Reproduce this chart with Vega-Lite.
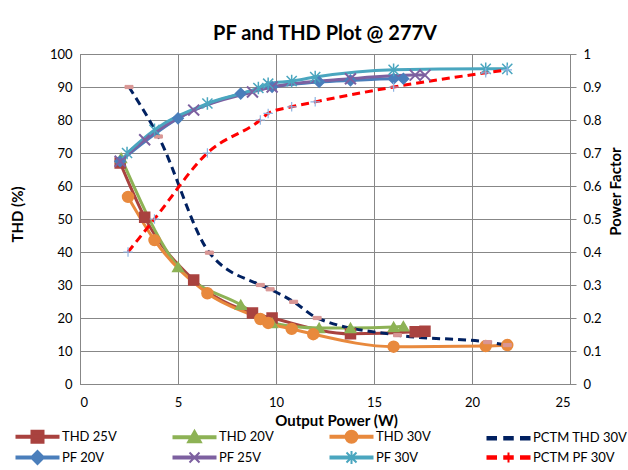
{
  "$schema": "https://vega.github.io/schema/vega-lite/v6.json",
  "width": 490,
  "height": 330,
  "autosize": {"type": "none"},
  "padding": {"left": 80, "top": 54, "right": 58, "bottom": 86},
  "background": "white",
  "title": {"text": "PF and THD Plot @ 277V", "font": "Lato", "fontSize": 20, "fontWeight": "bold", "color": "#000000", "anchor": "middle", "offset": 4},
  "config": {
    "font": "Lato",
    "view": {"stroke": "#878787", "strokeWidth": 1},
    "axis": {"labelFont": "Lato", "labelFontSize": 13, "labelColor": "#000000", "titleFont": "Lato", "titleFontSize": 15, "titleFontWeight": "bold", "titleColor": "#000000", "gridColor": "#878787", "gridWidth": 1, "domainColor": "#878787", "tickColor": "#878787", "tickSize": 6}
  },
  "data": {"values": [
    {"s": "THD 25V", "t": "THD", "x": 2.05, "y": 67},
    {"s": "THD 25V", "t": "THD", "x": 3.3, "y": 50.5},
    {"s": "THD 25V", "t": "THD", "x": 5.8, "y": 31.5},
    {"s": "THD 25V", "t": "THD", "x": 8.8, "y": 21.5},
    {"s": "THD 25V", "t": "THD", "x": 9.8, "y": 20},
    {"s": "THD 25V", "t": "THD", "x": 13.8, "y": 15.2},
    {"s": "THD 25V", "t": "THD", "x": 17.1, "y": 15.8},
    {"s": "THD 25V", "t": "THD", "x": 17.6, "y": 16},
    {"s": "THD 20V", "t": "THD", "x": 2.1, "y": 68.5},
    {"s": "THD 20V", "t": "THD", "x": 5.0, "y": 35.5},
    {"s": "THD 20V", "t": "THD", "x": 8.2, "y": 24},
    {"s": "THD 20V", "t": "THD", "x": 9.8, "y": 18.5},
    {"s": "THD 20V", "t": "THD", "x": 12.2, "y": 17},
    {"s": "THD 20V", "t": "THD", "x": 13.8, "y": 17},
    {"s": "THD 20V", "t": "THD", "x": 16.0, "y": 17.3},
    {"s": "THD 20V", "t": "THD", "x": 16.5, "y": 17.5},
    {"s": "THD 30V", "t": "THD", "x": 2.45, "y": 56.7},
    {"s": "THD 30V", "t": "THD", "x": 3.8, "y": 43.6},
    {"s": "THD 30V", "t": "THD", "x": 6.5, "y": 27.5},
    {"s": "THD 30V", "t": "THD", "x": 9.2, "y": 19.7},
    {"s": "THD 30V", "t": "THD", "x": 9.6, "y": 18.5},
    {"s": "THD 30V", "t": "THD", "x": 10.8, "y": 16.7},
    {"s": "THD 30V", "t": "THD", "x": 11.9, "y": 15.1},
    {"s": "THD 30V", "t": "THD", "x": 16.0, "y": 11.3},
    {"s": "THD 30V", "t": "THD", "x": 20.7, "y": 11.5},
    {"s": "THD 30V", "t": "THD", "x": 21.8, "y": 11.8},
    {"s": "PCTM THD 30V", "t": "THD", "x": 2.5, "y": 90},
    {"s": "PCTM THD 30V", "t": "THD", "x": 4.0, "y": 75},
    {"s": "PCTM THD 30V", "t": "THD", "x": 6.6, "y": 39.8},
    {"s": "PCTM THD 30V", "t": "THD", "x": 9.2, "y": 30},
    {"s": "PCTM THD 30V", "t": "THD", "x": 9.7, "y": 28.7},
    {"s": "PCTM THD 30V", "t": "THD", "x": 10.9, "y": 24.9},
    {"s": "PCTM THD 30V", "t": "THD", "x": 12.1, "y": 20},
    {"s": "PCTM THD 30V", "t": "THD", "x": 16.2, "y": 14.8},
    {"s": "PCTM THD 30V", "t": "THD", "x": 20.8, "y": 12.7},
    {"s": "PCTM THD 30V", "t": "THD", "x": 21.8, "y": 11.8},
    {"s": "PF 20V", "t": "PF", "x": 2.05, "y": 0.675},
    {"s": "PF 20V", "t": "PF", "x": 5.0, "y": 0.805},
    {"s": "PF 20V", "t": "PF", "x": 8.2, "y": 0.88},
    {"s": "PF 20V", "t": "PF", "x": 9.8, "y": 0.9},
    {"s": "PF 20V", "t": "PF", "x": 12.2, "y": 0.915},
    {"s": "PF 20V", "t": "PF", "x": 13.8, "y": 0.92},
    {"s": "PF 20V", "t": "PF", "x": 16.0, "y": 0.925},
    {"s": "PF 20V", "t": "PF", "x": 16.5, "y": 0.925},
    {"s": "PF 25V", "t": "PF", "x": 2.05, "y": 0.675},
    {"s": "PF 25V", "t": "PF", "x": 3.3, "y": 0.74},
    {"s": "PF 25V", "t": "PF", "x": 5.8, "y": 0.83},
    {"s": "PF 25V", "t": "PF", "x": 8.8, "y": 0.885},
    {"s": "PF 25V", "t": "PF", "x": 9.8, "y": 0.9},
    {"s": "PF 25V", "t": "PF", "x": 13.8, "y": 0.925},
    {"s": "PF 25V", "t": "PF", "x": 17.1, "y": 0.936},
    {"s": "PF 25V", "t": "PF", "x": 17.6, "y": 0.936},
    {"s": "PF 30V", "t": "PF", "x": 2.4, "y": 0.70},
    {"s": "PF 30V", "t": "PF", "x": 3.8, "y": 0.77},
    {"s": "PF 30V", "t": "PF", "x": 6.5, "y": 0.85},
    {"s": "PF 30V", "t": "PF", "x": 9.1, "y": 0.897},
    {"s": "PF 30V", "t": "PF", "x": 9.6, "y": 0.91},
    {"s": "PF 30V", "t": "PF", "x": 10.8, "y": 0.918},
    {"s": "PF 30V", "t": "PF", "x": 12.0, "y": 0.93},
    {"s": "PF 30V", "t": "PF", "x": 16.0, "y": 0.952},
    {"s": "PF 30V", "t": "PF", "x": 20.7, "y": 0.955},
    {"s": "PF 30V", "t": "PF", "x": 21.8, "y": 0.955},
    {"s": "PCTM PF 30V", "t": "PF", "x": 2.45, "y": 0.40},
    {"s": "PCTM PF 30V", "t": "PF", "x": 3.8, "y": 0.50},
    {"s": "PCTM PF 30V", "t": "PF", "x": 6.5, "y": 0.70},
    {"s": "PCTM PF 30V", "t": "PF", "x": 9.2, "y": 0.80},
    {"s": "PCTM PF 30V", "t": "PF", "x": 9.6, "y": 0.82},
    {"s": "PCTM PF 30V", "t": "PF", "x": 10.8, "y": 0.84},
    {"s": "PCTM PF 30V", "t": "PF", "x": 12.0, "y": 0.855},
    {"s": "PCTM PF 30V", "t": "PF", "x": 16.0, "y": 0.90},
    {"s": "PCTM PF 30V", "t": "PF", "x": 20.7, "y": 0.943},
    {"s": "PCTM PF 30V", "t": "PF", "x": 21.8, "y": 0.952}
  ]},
  "encoding": {
    "x": {"field": "x", "type": "quantitative", "scale": {"domain": [0, 25], "nice": false},
      "axis": {"title": "Output Power (W)", "titleX": 256, "values": [0, 5, 10, 15, 20, 25], "grid": true, "ticks": false, "labelPadding": 12, "titlePadding": 4}}
  },
  "layer": [
    {
      "transform": [{"filter": "datum.t === 'THD'"}],
      "encoding": {
        "y": {"field": "y", "type": "quantitative", "scale": {"domain": [0, 100], "nice": false},
          "axis": {"orient": "left", "title": "THD (%)", "titleY": 160, "values": [0, 10, 20, 30, 40, 50, 60, 70, 80, 90, 100], "grid": true, "ticks": false, "labelPadding": 8, "titlePadding": 24}}
      },
      "layer": [
        {
          "transform": [{"filter": "datum.s !== 'PCTM THD 30V'"}],
          "mark": {"type": "line", "interpolate": "monotone", "strokeWidth": 3},
          "encoding": {
            "color": {"field": "s", "type": "nominal",
              "scale": {"domain": ["THD 25V", "THD 20V", "THD 30V", "PCTM THD 30V", "PF 20V", "PF 25V", "PF 30V", "PCTM PF 30V"],
                "range": ["#A9423F", "#8DB255", "#E8893D", "#002060", "#4A7EBB", "#7D60A0", "#4AA6BF", "#FF0000"]},
              "legend": {
                "title": null, "orient": "none", "legendX": -65, "legendY": 376, "columns": 4, "direction": "horizontal",
                "padding": 0, "symbolSize": 100, "symbolOffset": 16, "labelOffset": 18, "columnPadding": 52, "rowPadding": 0,
                "labelFont": "Lato", "labelFontSize": 13, "labelColor": "#000000", "symbolStrokeWidth": 2,
                "encode": {"symbols": {"update": {
                  "shape": {"signal": "datum.value === 'THD 25V' ? 'M-4.2,-0.2L4.2,-0.2L4.2,0.2L-4.2,0.2ZM-1.2,-1.2L1.2,-1.2L1.2,1.2L-1.2,1.2Z' : datum.value === 'THD 20V' ? 'M-4.2,-0.2L4.2,-0.2L4.2,0.2L-4.2,0.2ZM0,-1.3L1.3,1L-1.3,1Z' : datum.value === 'THD 30V' ? 'M-4.2,-0.2L4.2,-0.2L4.2,0.2L-4.2,0.2ZM1.2,0A1.2,1.2,0,1,1,-1.2,0A1.2,1.2,0,1,1,1.2,0Z' : datum.value === 'PF 20V' ? 'M-4.2,-0.2L4.2,-0.2L4.2,0.2L-4.2,0.2ZM0,-1.3L1.3,0L0,1.3L-1.3,0Z' : datum.value === 'PF 25V' ? 'M-4.2,-0.2L4.2,-0.2L4.2,0.2L-4.2,0.2ZM-1,-1L1,1M-1,1L1,-1' : datum.value === 'PF 30V' ? 'M-4.2,-0.2L4.2,-0.2L4.2,0.2L-4.2,0.2ZM-1,-1L1,1M-1,1L1,-1M0,-1.3L0,1.3' : datum.value === 'PCTM PF 30V' ? 'M-4.2,-0.25L-2.5,-0.25L-2.5,0.25L-4.2,0.25ZM-0.85,-0.25L0.85,-0.25L0.85,0.25L-0.85,0.25ZM2.5,-0.25L4.2,-0.25L4.2,0.25L2.5,0.25ZM0,-1L0,1' : 'M-4.2,-0.25L-2.5,-0.25L-2.5,0.25L-4.2,0.25ZM-0.85,-0.25L0.85,-0.25L0.85,0.25L-0.85,0.25ZM2.5,-0.25L4.2,-0.25L4.2,0.25L2.5,0.25Z'"},
                  "fill": {"signal": "scale('color', datum.value)"},
                  "stroke": {"signal": "scale('color', datum.value)"},
                  "strokeWidth": {"value": 2},
                  "opacity": {"value": 1}
                }}}
              }}
          }
        },
        {
          "transform": [{"filter": "datum.s === 'PCTM THD 30V'"}],
          "mark": {"type": "line", "interpolate": "monotone", "strokeWidth": 3, "strokeDash": [8, 5]},
          "encoding": {"color": {"field": "s", "type": "nominal", "legend": null}}
        },
        {"transform": [{"filter": "datum.s === 'THD 25V'"}], "mark": {"type": "point", "shape": "square", "size": 100, "filled": true, "fill": "#A9423F", "stroke": "#A9423F", "strokeWidth": 1.5, "opacity": 1}},
        {"transform": [{"filter": "datum.s === 'THD 20V'"}], "mark": {"type": "point", "shape": "triangle-up", "size": 110, "filled": true, "fill": "#8DB255", "stroke": "#8DB255", "strokeWidth": 1.5, "opacity": 1}},
        {"transform": [{"filter": "datum.s === 'THD 30V'"}], "mark": {"type": "point", "shape": "circle", "size": 120, "filled": true, "fill": "#E8893D", "stroke": "#E8893D", "strokeWidth": 1.5, "opacity": 1}},
        {"transform": [{"filter": "datum.s === 'PCTM THD 30V'"}], "mark": {"type": "point", "shape": "M-1,-0.4L1,-0.4L1,0.4L-1,0.4Z", "size": 64, "filled": true, "fill": "#D99694", "stroke": "#D99694", "strokeWidth": 1, "opacity": 1}}
      ]
    },
    {
      "transform": [{"filter": "datum.t === 'PF'"}],
      "encoding": {
        "y": {"field": "y", "type": "quantitative", "scale": {"domain": [0, 1], "nice": false},
          "axis": {"orient": "right", "title": "Power Factor", "titleAngle": 270, "titleY": 137, "values": [0, 0.1, 0.2, 0.3, 0.4, 0.5, 0.6, 0.7, 0.8, 0.9, 1], "format": "~g", "grid": false, "ticks": true, "tickSize": 6, "labelPadding": 7, "titlePadding": 22}}
      },
      "layer": [
        {
          "transform": [{"filter": "datum.s !== 'PCTM PF 30V'"}],
          "mark": {"type": "line", "interpolate": "monotone", "strokeWidth": 3},
          "encoding": {"color": {"field": "s", "type": "nominal", "legend": null}}
        },
        {
          "transform": [{"filter": "datum.s === 'PCTM PF 30V'"}],
          "mark": {"type": "line", "interpolate": "monotone", "strokeWidth": 3, "strokeDash": [8, 5]},
          "encoding": {"color": {"field": "s", "type": "nominal", "legend": null}}
        },
        {"transform": [{"filter": "datum.s === 'PF 20V'"}], "mark": {"type": "point", "shape": "diamond", "size": 110, "filled": true, "fill": "#4A7EBB", "stroke": "#4A7EBB", "strokeWidth": 1.5, "opacity": 1}},
        {"transform": [{"filter": "datum.s === 'PF 25V'"}], "mark": {"type": "point", "shape": "M-1,-1L1,1M-1,1L1,-1", "size": 120, "filled": false, "stroke": "#7D60A0", "strokeWidth": 2, "opacity": 1}},
        {"transform": [{"filter": "datum.s === 'PF 30V'"}], "mark": {"type": "point", "shape": "M-0.8,-0.8L0.8,0.8M-0.8,0.8L0.8,-0.8M0,-1L0,1", "size": 160, "filled": false, "stroke": "#4AA6BF", "strokeWidth": 1.5, "opacity": 1}},
        {"transform": [{"filter": "datum.s === 'PCTM PF 30V'"}], "mark": {"type": "point", "shape": "M-1,0L1,0M0,-1L0,1", "size": 90, "filled": false, "stroke": "#8EB4E3", "strokeWidth": 1.2, "opacity": 1}}
      ]
    }
  ],
  "resolve": {"scale": {"y": "independent"}}
}
